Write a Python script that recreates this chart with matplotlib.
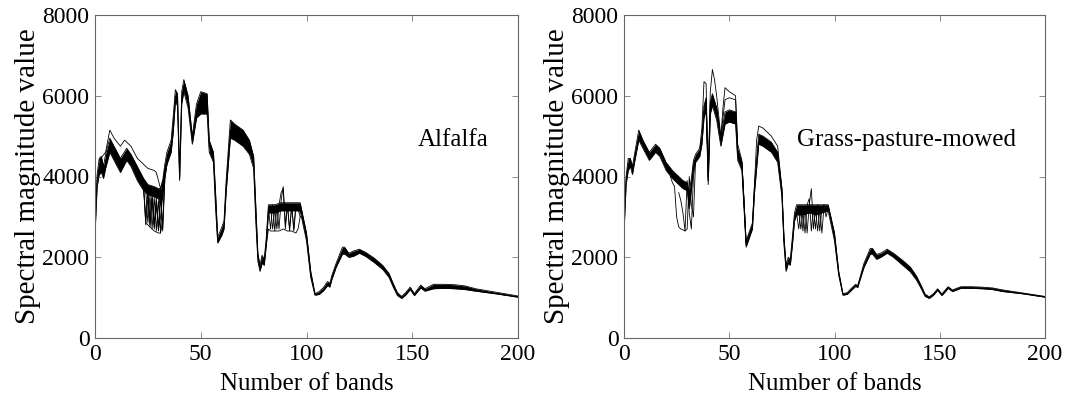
import matplotlib
matplotlib.use('Agg')
import matplotlib.pyplot as plt

# ----------------------------------------------------------------------
# spectral curves (band number -> magnitude)
# ----------------------------------------------------------------------
bands = [0, 1, 2, 3, 4, 5, 7, 9, 12, 15, 17, 20, 23, 25, 28, 30, 31, 32, 33, 34,
         36, 37, 38, 39, 40, 41, 42, 44, 46, 48, 50, 53, 54, 56, 57, 58, 60, 61, 62, 64,
         66, 70, 73, 75, 76, 77, 78, 79, 80, 81, 82, 85, 88, 91, 94, 97, 100, 102, 104, 106,
         108, 110, 111, 112, 114, 117, 118, 120, 122, 125, 128, 132, 136, 139, 141, 143, 145, 147, 149, 151,
         154, 156, 160, 165, 170, 175, 180, 190, 200]

alfalfa_upper = [2800, 4050, 4450, 4500, 4250, 4550, 4950, 4750, 4450, 4700, 4550, 4250, 3950, 3800, 3750, 3700, 3700, 3900, 4300, 4600,
                 4900, 5500, 6150, 6050, 4100, 6100, 6400, 6000, 5000, 5800, 6100, 6050, 4900, 4600, 3600, 2500, 2750, 2900, 3900, 5400,
                 5300, 5150, 4900, 4500, 3300, 2100, 1800, 2050, 1950, 2500, 3300, 3300, 3350, 3350, 3350, 3350, 2600, 1650, 1100, 1150,
                 1250, 1400, 1350, 1550, 1850, 2250, 2250, 2100, 2150, 2200, 2120, 1980, 1800, 1600, 1350, 1120, 1030, 1130, 1260, 1100,
                 1310, 1220, 1330, 1330, 1320, 1290, 1220, 1130, 1040]
alfalfa_mid = [2650, 3900, 4250, 4300, 4050, 4350, 4800, 4550, 4250, 4550, 4400, 4050, 3800, 3700, 3650, 3600, 3500, 3700, 4150, 4450,
               4750, 5300, 6000, 5900, 3950, 5950, 6250, 5850, 4900, 5650, 5950, 5900, 4750, 4450, 3400, 2400, 2650, 2800, 3750, 5150,
               5100, 4950, 4750, 4350, 3100, 2000, 1700, 1950, 1850, 2400, 3200, 3200, 3250, 3250, 3250, 3250, 2500, 1550, 1080, 1100,
               1200, 1350, 1300, 1500, 1800, 2150, 2150, 2050, 2080, 2150, 2070, 1920, 1750, 1550, 1300, 1080, 1000, 1100, 1230, 1070,
               1270, 1180, 1250, 1260, 1250, 1230, 1180, 1100, 1020]
alfalfa_lower = [2550, 3750, 4050, 4100, 3950, 4200, 4600, 4400, 4100, 4400, 4250, 3900, 3650, 3550, 3500, 3450, 3300, 3500, 4000, 4300,
                 4600, 5100, 5850, 5750, 3900, 5800, 6100, 5700, 4800, 5450, 5550, 5550, 4600, 4350, 3200, 2350, 2550, 2700, 3600, 4950,
                 4900, 4750, 4550, 4200, 2900, 1900, 1650, 1850, 1800, 2300, 3100, 3100, 3150, 3150, 3150, 3150, 2400, 1500, 1060, 1080,
                 1170, 1300, 1260, 1450, 1750, 2080, 2080, 2000, 2020, 2100, 2020, 1870, 1700, 1500, 1260, 1050, 980, 1070, 1200, 1050,
                 1240, 1160, 1220, 1230, 1220, 1200, 1160, 1090, 1010]

# single curves that leave the main bundle (bands, values)
alfalfa_extra = [
    ([2, 5, 7, 9, 12, 14, 17, 20, 23, 25, 28, 29, 30, 31, 32],
     [4400, 4600, 5150, 4950, 4750, 4900, 4750, 4450, 4300, 4200, 4150, 4100, 3900, 3700, 3900]),
    ([21, 22, 23, 24, 26, 28, 30, 31, 32, 33, 34],
     [3950, 3850, 3700, 2850, 2750, 2650, 2600, 2600, 2900, 3900, 4300]),
    ([22, 23, 24, 25, 26, 27, 28, 29, 30, 31, 32, 33],
     [3850, 3700, 3000, 3650, 2800, 3600, 2750, 3500, 2700, 3650, 2700, 4000]),
    ([23, 24, 25, 26, 27, 28, 29, 30, 31, 32, 33],
     [3750, 3650, 2850, 3550, 2700, 3500, 2650, 3400, 2600, 3800, 4200]),
    ([24, 25, 26, 27, 28, 29, 30, 31, 32, 33],
     [3600, 3600, 2900, 3450, 2800, 3400, 2700, 3000, 3600, 4100]),
    ([23, 24, 25, 26, 27, 28, 29, 30, 31, 32, 33],
     [3700, 2800, 3500, 2750, 3450, 2700, 3300, 2650, 3500, 2650, 3900]),
    ([81, 82, 83, 85, 87, 89, 91, 93, 95, 96, 97, 98],
     [2300, 2700, 2650, 2650, 2650, 2700, 2650, 2650, 2600, 2700, 3000, 3000]),
    ([82, 83, 84, 85, 86, 87, 88, 89, 90, 91, 92, 93, 94, 95, 96, 97],
     [3250, 2700, 3300, 2650, 3250, 2700, 3400, 3750, 2800, 3300, 2650, 3300, 2650, 3250, 3300, 3100]),
    ([83, 84, 85, 86, 87, 88, 89, 90, 91, 92, 93, 94, 95, 96, 97],
     [3250, 2700, 3200, 2700, 3300, 3600, 3700, 2700, 3300, 2700, 3250, 2700, 3300, 3200, 3000]),
]

grass_upper = [2800, 4000, 4450, 4450, 4250, 4550, 5150, 4900, 4600, 4800, 4700, 4350, 4150, 4050, 3900, 3850, 3600, 3950, 4400, 4550,
               4700, 5000, 5750, 5950, 4000, 5850, 6050, 5700, 4950, 5600, 5650, 5600, 4650, 4350, 3400, 2400, 2700, 2850, 3800, 5050,
               5000, 4850, 4600, 3700, 2500, 1800, 2000, 1950, 2500, 3100, 3300, 3300, 3300, 3300, 3300, 3300, 2600, 1650, 1100, 1120,
               1230, 1330, 1300, 1480, 1850, 2220, 2220, 2070, 2100, 2200, 2100, 1940, 1760, 1530, 1320, 1090, 1020, 1100, 1220, 1090,
               1270, 1190, 1270, 1270, 1260, 1240, 1190, 1110, 1030]
grass_mid = [2700, 3900, 4300, 4350, 4150, 4450, 5000, 4800, 4500, 4700, 4600, 4250, 4050, 3950, 3800, 3750, 3400, 3800, 4300, 4450,
             4600, 4900, 5600, 5800, 3900, 5700, 5900, 5550, 4850, 5450, 5500, 5450, 4500, 4250, 3300, 2300, 2600, 2750, 3700, 4900,
             4850, 4700, 4450, 3600, 2400, 1700, 1900, 1850, 2400, 3000, 3150, 3150, 3200, 3150, 3200, 3250, 2500, 1600, 1080, 1100,
             1200, 1300, 1270, 1450, 1800, 2150, 2150, 2000, 2050, 2150, 2050, 1880, 1700, 1480, 1280, 1060, 1000, 1080, 1200, 1070,
             1250, 1170, 1250, 1250, 1240, 1220, 1170, 1100, 1020]
grass_lower = [2600, 3800, 4150, 4250, 4050, 4350, 4900, 4700, 4400, 4600, 4500, 4150, 3950, 3850, 3700, 3650, 3200, 3650, 4200, 4350,
               4500, 4800, 5450, 5650, 3800, 5550, 5750, 5400, 4750, 5300, 5350, 5300, 4400, 4150, 3200, 2250, 2550, 2700, 3600, 4800,
               4750, 4600, 4350, 3500, 2300, 1650, 1850, 1800, 2300, 2900, 3050, 3050, 3100, 3050, 3100, 3150, 2400, 1550, 1060, 1080,
               1180, 1280, 1250, 1420, 1750, 2080, 2080, 1950, 2000, 2100, 2000, 1820, 1640, 1430, 1240, 1030, 980, 1060, 1180, 1050,
               1230, 1150, 1230, 1230, 1220, 1200, 1150, 1090, 1010]

grass_extra = [
    ([36, 37, 38, 39, 40, 41, 42, 44, 46, 47, 48, 50, 53, 54, 56, 57, 58],
     [4700, 5200, 6350, 6300, 3900, 5800, 6000, 5700, 4950, 5700, 6200, 6100, 6000, 4800, 4400, 3400, 2350]),
    ([38, 39, 40, 41, 42, 43, 44, 46, 48, 50, 53, 54, 56, 57, 58, 60, 61, 62, 63, 64, 66, 70, 73, 75, 76],
     [5700, 5900, 4000, 6100, 6650, 6400, 6000, 5000, 5900, 5950, 5900, 4700, 4350, 3400, 2350, 2650, 2800, 3800, 4900, 5250,
      5200, 5000, 4750, 3700, 2400]),
    ([22, 23, 24, 25, 26, 27, 28, 29, 30, 31, 32, 33, 34],
     [4000, 3850, 3750, 3000, 2750, 2700, 2680, 2650, 2700, 4000, 3300, 3000, 4400]),
    ([26, 27, 28, 29, 30, 31, 32, 33, 34],
     [3600, 3400, 3100, 2650, 3900, 3100, 2700, 4000, 4400]),
    ([82, 83, 84, 85, 86, 87, 88, 89, 90, 91, 92, 93, 94, 95, 96, 97],
     [3100, 2700, 3200, 2650, 3250, 2600, 3300, 3700, 2700, 3200, 2650, 3200, 2600, 3250, 3200, 3250]),
    ([83, 84, 85, 86, 87, 88, 89, 90, 91, 92, 93, 94, 95, 96, 97],
     [3150, 2700, 3100, 2600, 3300, 3450, 2650, 3250, 2700, 3300, 2650, 3200, 3300, 3000, 3200]),
]

plt.rcParams['font.family'] = ['Liberation Serif', 'DejaVu Serif']


def draw_panel(ax, upper, mid, lower, extra, name):
    ax.fill_between(bands, lower, upper, color='black', lw=0)
    for ys in (upper, mid, lower):
        ax.plot(bands, ys, color='black', lw=0.6)
    for xs, ys in extra:
        ax.plot(xs, ys, color='black', lw=0.6)

    ax.text(186, 4900, name, ha='right', va='center', fontsize=18)
    ax.set_xlim(0, 200)
    ax.set_ylim(0, 8000)
    ax.set_xticks([0, 50, 100, 150, 200])
    ax.set_yticks([0, 2000, 4000, 6000, 8000])
    ax.tick_params(direction='in', length=4, width=0.6, color='#777777',
                   labelsize=17, top=True, right=True, pad=4)
    for sp in ax.spines.values():
        sp.set_color('#666666')
        sp.set_linewidth(0.8)
    ax.set_xlabel('Number of bands', fontsize=18, labelpad=6)
    ax.set_ylabel('Spectral magnitude value', fontsize=21, labelpad=1)


fig = plt.figure(figsize=(10.74, 4.03), dpi=100)
ax1 = fig.add_axes([95 / 1074, 65 / 403, 423 / 1074, 323 / 403])
ax2 = fig.add_axes([624 / 1074, 65 / 403, 421 / 1074, 323 / 403])

draw_panel(ax1, alfalfa_upper, alfalfa_mid, alfalfa_lower, alfalfa_extra, 'Alfalfa')
draw_panel(ax2, grass_upper, grass_mid, grass_lower, grass_extra, 'Grass-pasture-mowed')

plt.savefig('out.png', dpi=100)
